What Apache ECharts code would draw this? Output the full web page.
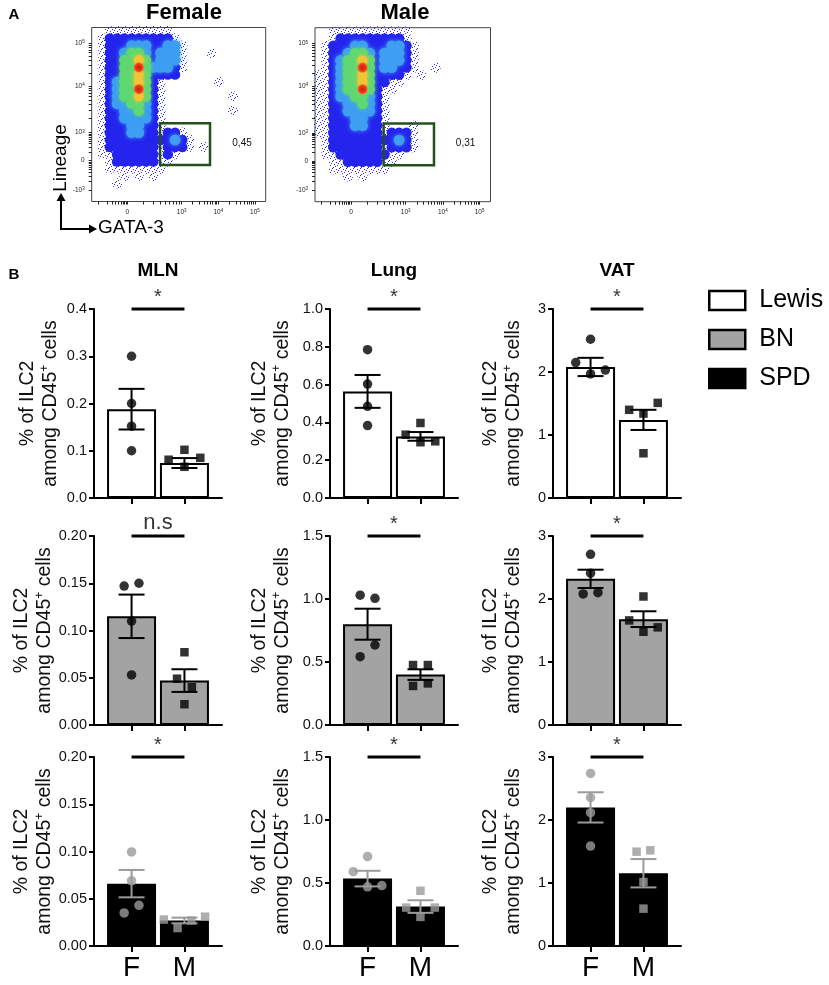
<!DOCTYPE html>
<html>
<head>
<meta charset="utf-8">
<script src="https://cdn.jsdelivr.net/npm/echarts@6.0.0/dist/echarts.min.js"></script>
<style>
  html, body { margin: 0; padding: 0; background: #fff; }
  #chart { width: 829px; height: 985px; }
</style>
</head>
<body>
<div id="chart"></div>
<script>
// ---------- panel B data ----------
const tissues = ['MLN', 'Lung', 'VAT'];
const strains = ['Lewis', 'BN', 'SPD'];
const sexes = ['F', 'M'];

// y axis per strain (row) and tissue (column)
const yMax = [[0.4, 1.0, 3], [0.20, 1.5, 3], [0.20, 1.5, 3]];
const yStep = [[0.1, 0.2, 1], [0.05, 0.5, 1], [0.05, 0.5, 1]];
const yDigits = [[1, 1, 0], [2, 1, 0], [2, 1, 0]];

// bar heights (mean) and SEM
const meanF = [[0.188, 0.564, 2.08], [0.115, 0.80, 2.32], [0.066, 0.535, 2.20]];
const semF = [[0.043, 0.087, 0.145], [0.023, 0.123, 0.145], [0.0145, 0.062, 0.24]];
const meanM = [[0.074, 0.326, 1.24], [0.047, 0.40, 1.68], [0.027, 0.313, 1.155]];
const semM = [[0.0105, 0.023, 0.16], [0.012, 0.042, 0.125], [0.003, 0.05, 0.225]];

// individual animals (jit = sideways offset from the group centre, in group units)
const ptsF = [
  [[0.30, 0.20, 0.152, 0.10], [0.785, 0.603, 0.485, 0.383], [2.52, 2.15, 1.97, 2.03]],
  [[0.147, 0.150, 0.110, 0.053], [1.03, 1.005, 0.635, 0.542], [2.71, 2.41, 2.08, 2.10]],
  [[0.0996, 0.069, 0.043, 0.035], [0.71, 0.59, 0.47, 0.48], [2.74, 2.355, 2.116, 1.587]]
];
const jitF = [
  [[0, 0, 0, 0], [0, 0, 0, 0], [0, -0.28, 0, 0.28]],
  [[-0.14, 0.14, 0, 0], [-0.14, 0.14, 0.14, -0.14], [0, 0, -0.14, 0.14]],
  [[0, 0, 0.14, -0.14], [0, -0.27, 0, 0.27], [0, 0, 0, 0]]
];
const ptsM = [
  [[0.102, 0.081, 0.085, 0.066], [0.397, 0.335, 0.295, 0.30], [1.40, 1.34, 1.51, 0.71]],
  [[0.077, 0.049, 0.040, 0.022], [0.476, 0.476, 0.31, 0.33], [2.04, 1.66, 1.55, 1.48]],
  [[0.028, 0.019, 0.027, 0.031], [0.438, 0.305, 0.305, 0.231], [1.497, 1.519, 1.016, 0.593]]
];
const jitM = [
  [[0, -0.3, 0.3, 0], [0, -0.28, 0, 0.28], [-0.27, 0, 0.27, 0]],
  [[0, -0.14, 0.14, 0], [-0.14, 0.14, -0.14, 0.14], [0, -0.27, 0.27, 0]],
  [[-0.39, -0.13, 0.13, 0.39], [0, -0.27, 0.27, 0], [-0.13, 0.13, 0, 0]]
];
const sigText = [['*', '*', '*'], ['n.s', '*', '*'], ['*', '*', '*']];

// ---------- panel A data (density levels, 24x24 cells, top row first) ----------
const flowNames = ['Female', 'Male'];
const femaleDensity = [
  '001111111110000000000000',
  '012222222221000000000000',
  '012223332233100000000000',
  '012234432333100010000000',
  '012244542333100000000000',
  '012244643332100000000000',
  '012244542222000000000000',
  '012344542100000001000000',
  '012344642100000000000000',
  '012344542100000000010000',
  '012334432100000000000000',
  '012233432100000000010000',
  '012233332100000000000000',
  '012223322100000000000000',
  '012223322122100000000000',
  '012222222223210000000000',
  '012222222122210100000000',
  '011222222121000000000000',
  '001222222110000000000000',
  '001111111100000000000000',
  '000010101000000000000000',
  '000100000000000000000000',
  '000000000000000000000000',
  '000000000000000000000000'
];
const maleDensity = [
  '001111111111100000000000',
  '001222222222100000000000',
  '012223322233210000000000',
  '012234432333210000000000',
  '012344542333210000000000',
  '012344642332210010000000',
  '112344542222101000000000',
  '112344542211000000000000',
  '112344642110000000000000',
  '112334432100000000000000',
  '112233432100000000000000',
  '112233332100000000000000',
  '112223322100000000000000',
  '112223322100010000000000',
  '112222222122210000000000',
  '012222222223210000000000',
  '012222222122210000000000',
  '011222222211000000000000',
  '001122222110000000000000',
  '001111111100000000000000',
  '000010100000000000000000',
  '000000000000000000000000',
  '000000000000000000000000',
  '000000000000000000000000'
];
const gateBox = [[0.393, 0.210, 0.680, 0.450], [0.391, 0.210, 0.678, 0.450]];
const gateFreq = ['0,45', '0,31'];
const gateLabelAt = [[0.864, 0.337], [0.858, 0.337]];
const flowXMajor = [0.205, 0.517, 0.728, 0.938];
const flowXLabels = ['0', '10{s|3}', '10{s|4}', '10{s|5}'];
const flowYMajor = [0.067, 0.235, 0.396, 0.665, 0.910];
const flowYLabels = ['-10{s|3}', '0', '10{s|3}', '10{s|4}', '10{s|5}'];

// ---------- layout / style ----------
const FONT = 'Liberation Sans, Arial, Helvetica, sans-serif';
const axisLeft = [94, 330, 553];
const rowTop = [309, 536, 757];
const plotW = 128, plotH = 189;
const nameGaps = [32, 36, 28];
const barFill = ['#ffffff', '#a3a3a3', '#000000'];
const markColor = ['#000000', '#000000', '#9a9a9a'];
const flowLeft = [91.7, 315];
const flowTop = [27.5, 27.7];
const flowSize = [[174, 174], [175.5, 174]];

function speckle() {
  const cv = document.createElement('canvas');
  cv.width = 7; cv.height = 7;
  const g = cv.getContext('2d');
  g.fillStyle = '#2b2bf2';
  [[0, 1], [3, 0], [5, 3], [1, 4], [4, 6], [6, 5], [2, 2]].forEach(p => g.fillRect(p[0], p[1], 1, 1));
  return cv;
}
const speckleImg = speckle();

const levelFill = [
  null,
  { image: speckleImg, repeat: 'repeat' },
  '#2424ee',
  '#3d9ef2',
  '#5fd872',
  '#f0c536',
  { type: 'radial', x: 0.5, y: 0.5, r: 0.5, colorStops: [
    { offset: 0, color: '#d8160e' }, { offset: 0.65, color: '#ea3a18' }, { offset: 1, color: '#f08a2a' }] }
];
const levelRadius = [0, 0.7, 0.72, 0.74, 0.72, 0.7, 0.72];

function tickSet(bases) {
  const t = [];
  for (let i = 0; i < bases.length; i++) {
    t.push(bases[i]);
    if (i < bases.length - 1) {
      for (let k = 2; k <= 9; k++) t.push(bases[i] + (bases[i + 1] - bases[i]) * Math.log10(k));
    }
  }
  return t;
}

function densityData(rows) {
  const out = [];
  const nr = rows.length, nc = rows[0].length;
  rows.forEach((s, r) => {
    for (let c = 0; c < nc; c++) {
      const lv = +s[c];
      if (lv > 0) out.push([(c + 0.5) / nc, 1 - (r + 0.5) / nr, lv, 1 / nc, 1 / nr]);
    }
  });
  out.sort((a, b) => a[2] - b[2]);
  return out;
}

const grid = [], xAxis = [], yAxis = [], series = [];

// ---------- panel A ----------
[femaleDensity, maleDensity].forEach((rows, k) => {
  const gi = grid.length;
  grid.push({ left: flowLeft[k], top: flowTop[k], width: flowSize[k][0], height: flowSize[k][1],
    show: true, borderColor: '#444', borderWidth: 1, backgroundColor: 'transparent' });
  xAxis.push({
    gridIndex: gi, type: 'value', min: 0, max: 1,
    axisLine: { show: false, onZero: false },
    axisTick: { show: true, customValues: tickSet([0.037].concat(flowXMajor)), length: 3, lineStyle: { color: '#222', width: 1 } },
    axisLabel: { show: true, customValues: flowXMajor, margin: 7, fontSize: 6.5, color: '#222', fontFamily: FONT,
      formatter: v => flowXLabels[flowXMajor.indexOf(v)] || '',
      rich: { s: { fontSize: 4.5, verticalAlign: 'top', lineHeight: 5 } } },
    splitLine: { show: false }
  });
  yAxis.push({
    gridIndex: gi, type: 'value', min: 0, max: 1,
    axisLine: { show: false, onZero: false },
    axisTick: { show: true, customValues: tickSet(flowYMajor), length: 3, lineStyle: { color: '#222', width: 1 } },
    axisLabel: { show: true, customValues: flowYMajor, margin: 7, fontSize: 6.5, color: '#222', fontFamily: FONT,
      formatter: v => flowYLabels[flowYMajor.indexOf(v)] || '',
      rich: { s: { fontSize: 4.5, verticalAlign: 'top', lineHeight: 5 } } },
    splitLine: { show: false }
  });
  series.push({
    type: 'custom', xAxisIndex: gi, yAxisIndex: gi, silent: true, z: 2,
    data: densityData(rows),
    renderItem(params, api) {
      const p = api.coord([api.value(0), api.value(1)]);
      const s = api.size([api.value(3), api.value(4)]);
      const lv = api.value(2);
      const f = levelFill[lv];
      return {
        type: 'circle',
        shape: { cx: p[0], cy: p[1], r: s[0] * levelRadius[lv] },
        style: { fill: f, shadowBlur: lv >= 3 ? 4 : 0, shadowColor: typeof f === 'string' ? f : 'rgba(0,0,0,0)' }
      };
    }
  });
  series.push({
    type: 'custom', xAxisIndex: gi, yAxisIndex: gi, silent: true, z: 5,
    data: [gateBox[k].concat(gateLabelAt[k])],
    renderItem(params, api) {
      const a = api.coord([api.value(0), api.value(1)]);
      const b = api.coord([api.value(2), api.value(3)]);
      const t = api.coord([api.value(4), api.value(5)]);
      return {
        type: 'group',
        children: [
          { type: 'rect', shape: { x: a[0], y: b[1], width: b[0] - a[0], height: a[1] - b[1] },
            style: { fill: 'none', stroke: '#24501b', lineWidth: 2.5 } },
          { type: 'text', x: t[0], y: t[1],
            style: { text: gateFreq[k], fontSize: 10, fontFamily: FONT, fill: '#111', align: 'center', verticalAlign: 'middle' } }
        ]
      };
    }
  });
});

// ---------- panel B ----------
for (let r = 0; r < 3; r++) {
  for (let c = 0; c < 3; c++) {
    const gi = grid.length;
    const top = yMax[r][c];
    grid.push({ left: axisLeft[c], top: rowTop[r], width: plotW, height: plotH });
    xAxis.push({
      gridIndex: gi, type: 'value', min: -0.71, max: 1.71,
      axisLine: { show: true, onZero: false, lineStyle: { color: '#000', width: 2 } },
      axisTick: { show: true, customValues: [0, 1], length: 6, lineStyle: { color: '#000', width: 2 } },
      axisLabel: { show: r === 2, customValues: [0, 1], margin: 8, fontSize: 28, color: '#000', fontFamily: FONT,
        formatter: v => sexes[Math.round(v)] },
      splitLine: { show: false }
    });
    yAxis.push({
      gridIndex: gi, type: 'value', min: 0, max: top, interval: yStep[r][c],
      axisLine: { show: true, onZero: false, lineStyle: { color: '#000', width: 2 } },
      axisTick: { show: true, length: 5, lineStyle: { color: '#000', width: 2 } },
      axisLabel: { margin: 7, fontSize: 14.5, color: '#111', fontFamily: FONT,
        formatter: v => v.toFixed(yDigits[r][c]) },
      splitLine: { show: false },
      name: '{a|% of ILC2}\n{a|among CD45}{s|+}{a| cells}',
      nameLocation: 'middle', nameRotate: 90, nameGap: nameGaps[c],
      nameTextStyle: {
        rich: {
          a: { fontSize: 19.5, lineHeight: 23, fontFamily: FONT, color: '#111' },
          s: { fontSize: 12, lineHeight: 12, verticalAlign: 'top', fontFamily: FONT, color: '#111' }
        }
      }
    });
    series.push({
      name: strains[r], type: 'bar', xAxisIndex: gi, yAxisIndex: gi, barWidth: 49, z: 2, silent: true,
      itemStyle: { color: barFill[r], borderColor: '#000', borderWidth: 2 },
      data: [[0, meanF[r][c]], [1, meanM[r][c]]]
    });
    series.push({
      type: 'custom', xAxisIndex: gi, yAxisIndex: gi, z: 3, silent: true,
      data: [[0, meanF[r][c] - semF[r][c], meanF[r][c] + semF[r][c]],
             [1, meanM[r][c] - semM[r][c], meanM[r][c] + semM[r][c]]],
      renderItem(params, api) {
        const lo = api.coord([api.value(0), api.value(1)]);
        const hi = api.coord([api.value(0), api.value(2)]);
        const st = { stroke: markColor[r], lineWidth: 2 };
        return {
          type: 'group',
          children: [
            { type: 'line', shape: { x1: lo[0], y1: lo[1], x2: hi[0], y2: hi[1] }, style: st },
            { type: 'line', shape: { x1: hi[0] - 13, y1: hi[1], x2: hi[0] + 13, y2: hi[1] }, style: st },
            { type: 'line', shape: { x1: lo[0] - 13, y1: lo[1], x2: lo[0] + 13, y2: lo[1] }, style: st }
          ]
        };
      }
    });
    series.push({
      type: 'scatter', xAxisIndex: gi, yAxisIndex: gi, z: 4, silent: true, clip: false,
      symbol: 'circle', symbolSize: 9.5, itemStyle: { color: markColor[r] },
      data: ptsF[r][c].map((v, i) => [jitF[r][c][i], v])
    });
    series.push({
      type: 'scatter', xAxisIndex: gi, yAxisIndex: gi, z: 4, silent: true, clip: false,
      symbol: 'rect', symbolSize: 8.5, itemStyle: { color: markColor[r] },
      data: ptsM[r][c].map((v, i) => [1 + jitM[r][c][i], v])
    });
    series.push({
      type: 'line', xAxisIndex: gi, yAxisIndex: gi, z: 5, silent: true, clip: false,
      symbol: 'none', lineStyle: { color: '#000', width: 3 },
      data: [[0, top], [1, top]]
    });
    series.push({
      type: 'scatter', xAxisIndex: gi, yAxisIndex: gi, z: 5, silent: true, clip: false,
      symbolSize: 0,
      label: { show: true, position: 'top', distance: 2, formatter: sigText[r][c],
        fontSize: sigText[r][c] === '*' ? 20 : 22, color: '#000', fontFamily: FONT },
      data: [[0.5, top]]
    });
  }
}

// ---------- text and arrows ----------
const graphic = [
  { type: 'text', x: 14, y: 15, style: { text: 'A', font: 'bold 15px ' + FONT, fill: '#000', align: 'center', verticalAlign: 'middle' } },
  { type: 'text', x: 14, y: 275, style: { text: 'B', font: 'bold 15px ' + FONT, fill: '#000', align: 'center', verticalAlign: 'middle' } },
  { type: 'text', x: 184, y: 13, style: { text: flowNames[0], font: 'bold 22px ' + FONT, fill: '#000', align: 'center', verticalAlign: 'middle' } },
  { type: 'text', x: 405, y: 13, style: { text: flowNames[1], font: 'bold 22px ' + FONT, fill: '#000', align: 'center', verticalAlign: 'middle' } },
  { type: 'line', shape: { x1: 61, y1: 229, x2: 61, y2: 200 }, style: { stroke: '#000', lineWidth: 2 } },
  { type: 'polygon', shape: { points: [[56.5, 201], [65.5, 201], [61, 193]] }, style: { fill: '#000' } },
  { type: 'line', shape: { x1: 60, y1: 229, x2: 90, y2: 229 }, style: { stroke: '#000', lineWidth: 2 } },
  { type: 'polygon', shape: { points: [[89, 224.5], [89, 233.5], [97, 229]] }, style: { fill: '#000' } },
  { type: 'text', x: 61, y: 158, rotation: Math.PI / 2,
    style: { text: 'Lineage', font: '19px ' + FONT, fill: '#000', align: 'center', verticalAlign: 'middle' } },
  { type: 'text', x: 98, y: 228, style: { text: 'GATA-3', font: '19px ' + FONT, fill: '#000', align: 'left', verticalAlign: 'middle' } }
];
tissues.forEach((t, c) => {
  graphic.push({ type: 'text', x: axisLeft[c] + plotW / 2, y: 271,
    style: { text: t, font: 'bold 19px ' + FONT, fill: '#000', align: 'center', verticalAlign: 'middle' } });
});

const option = {
  animation: false,
  backgroundColor: '#fff',
  textStyle: { fontFamily: FONT },
  legend: {
    data: strains, orient: 'vertical', left: 703, top: 283,
    itemWidth: 36, itemHeight: 19, itemGap: 14, icon: 'rect', selectedMode: false,
    textStyle: { fontSize: 25, lineHeight: 25, color: '#000', fontFamily: FONT, padding: [0, 0, 0, 9] },
    itemStyle: { borderColor: '#000', borderWidth: 2.5 }
  },
  grid, xAxis, yAxis, series, graphic
};

const chart = echarts.init(document.getElementById('chart'));
chart.setOption(option);
</script>
</body>
</html>
